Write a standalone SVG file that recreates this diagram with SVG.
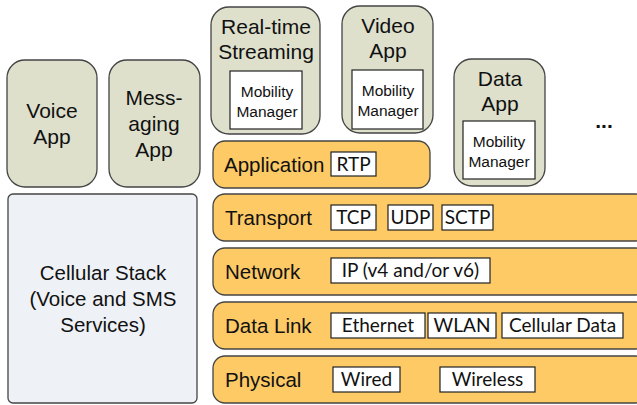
<svg xmlns="http://www.w3.org/2000/svg" width="637" height="405" viewBox="0 0 637 405">
<style>
.app{fill:#dee0cc;stroke:#444;stroke-width:1.3}
.layer{fill:#fdca66;stroke:#444;stroke-width:1.3}
.cell{fill:#eef1f5;stroke:#444;stroke-width:1.3}
.box{fill:#fff;stroke:#222;stroke-width:1.2}
.t{font-family:"Liberation Sans",Arial,sans-serif;fill:#111;text-anchor:middle}
.big{font-size:21px}
.lab{font-size:20.5px;text-anchor:start}
.mm{font-size:15.5px}
.sub{font-family:Lato,"Open Sans",sans-serif;font-size:19px;fill:#111;text-anchor:middle}
</style>
<g id="voice-app"><rect class="app" x="7" y="60" width="90" height="127" rx="18"/>
<text class="t big" x="52" y="118">Voice</text><text class="t big" x="52" y="144">App</text></g>
<g id="messaging-app"><rect class="app" x="109" y="60" width="91" height="127" rx="18"/>
<text class="t big" x="154" y="105">Mess-</text><text class="t big" x="154" y="131">aging</text><text class="t big" x="154" y="157">App</text></g>
<g id="realtime-app"><rect class="app" x="211" y="7" width="109" height="127" rx="18"/>
<text class="t big" x="266" y="34">Real-time</text><text class="t big" x="266" y="59">Streaming</text>
<rect class="box" x="230" y="71" width="72" height="58"/>
<text class="t mm" x="267" y="97">Mobility</text><text class="t mm" x="267" y="117">Manager</text></g>
<g id="video-app"><rect class="app" x="342" y="6" width="91" height="127" rx="18"/>
<text class="t big" x="388" y="33">Video</text><text class="t big" x="388" y="58">App</text>
<rect class="box" x="352" y="70" width="71" height="59"/>
<text class="t mm" x="388" y="96">Mobility</text><text class="t mm" x="388" y="116">Manager</text></g>
<g id="data-app"><rect class="app" x="454" y="59" width="91" height="127" rx="18"/>
<text class="t big" x="500" y="86">Data</text><text class="t big" x="500" y="111">App</text>
<rect class="box" x="463" y="121" width="72" height="58"/>
<text class="t mm" x="499" y="147">Mobility</text><text class="t mm" x="499" y="167">Manager</text></g>
<g id="more"><text class="t" x="604" y="128" style="font-size:21px;font-weight:bold">...</text></g>
<g id="cellular-stack"><rect class="cell" x="8" y="194" width="189" height="209" rx="5"/>
<text class="t" style="font-size:20.5px" x="103" y="280">Cellular Stack</text>
<text class="t" style="font-size:20.5px" x="103" y="306">(Voice and SMS</text>
<text class="t" style="font-size:20.5px" x="103" y="332">Services)</text></g>
<g id="application"><rect class="layer" x="213" y="141" width="217" height="47" rx="12"/>
<text class="t lab" x="224" y="172">Application</text>
<rect class="box" x="331" y="152" width="45" height="24"/><text class="sub" x="353.5" y="171">RTP</text></g>
<g id="transport"><rect class="layer" x="213" y="194" width="435" height="47" rx="12"/>
<text class="t lab" x="225" y="225">Transport</text>
<rect class="box" x="331" y="205" width="45" height="25"/><text class="sub" x="353.5" y="224">TCP</text>
<rect class="box" x="388" y="205" width="45" height="25"/><text class="sub" x="410.5" y="224">UDP</text>
<rect class="box" x="442" y="205" width="51" height="25"/><text class="sub" x="467.5" y="224">SCTP</text></g>
<g id="network"><rect class="layer" x="213" y="248" width="435" height="47" rx="12"/>
<text class="t lab" x="225" y="279">Network</text>
<rect class="box" x="331" y="258" width="159" height="25"/><text class="sub" x="410.5" y="277">IP (v4 and/or v6)</text></g>
<g id="data-link"><rect class="layer" x="213" y="302" width="435" height="47" rx="12"/>
<text class="t lab" x="225" y="333">Data Link</text>
<rect class="box" x="331" y="313" width="94" height="25"/><text class="sub" x="378" y="332">Ethernet</text>
<rect class="box" x="428" y="313" width="68" height="25"/><text class="sub" x="462" y="332">WLAN</text>
<rect class="box" x="502" y="313" width="121" height="25"/><text class="sub" x="562.5" y="332">Cellular Data</text></g>
<g id="physical"><rect class="layer" x="213" y="356" width="435" height="47" rx="12"/>
<text class="t lab" x="225" y="387">Physical</text>
<rect class="box" x="333" y="367" width="67" height="25"/><text class="sub" x="366.5" y="386">Wired</text>
<rect class="box" x="440" y="367" width="95" height="25"/><text class="sub" x="487.5" y="386">Wireless</text></g>
<g id="connectors"/>
</svg>
